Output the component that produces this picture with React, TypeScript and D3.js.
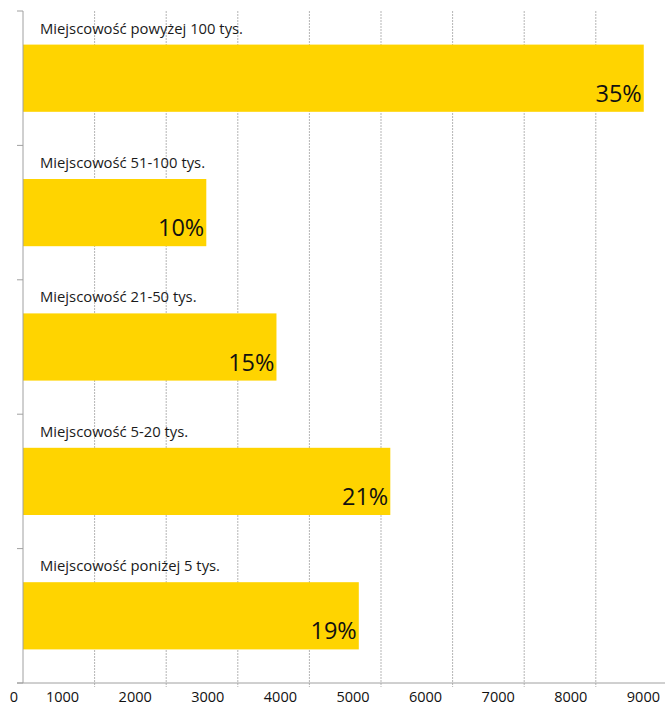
import React from "react";
import * as d3 from "d3";

const categories = [
  "Miejscowość powyżej 100 tys.",
  "Miejscowość 51-100 tys.",
  "Miejscowość 21-50 tys.",
  "Miejscowość 5-20 tys.",
  "Miejscowość poniżej 5 tys.",
];
const values = [8670, 2560, 3540, 5130, 4690];
const percents = ["35%", "10%", "15%", "21%", "19%"];
const xTicks = [0, 1000, 2000, 3000, 4000, 5000, 6000, 7000, 8000, 9000];

const W = 672;
const H = 706;
const FONT = "'Open Sans', 'Noto Sans', sans-serif";

export default function App() {
  const left = 23;
  const top = 11;
  const bottom = 683;
  const x = d3.scaleLinear().domain([0, 9000]).range([left, left + 71.6 * 9]);
  const y = d3
    .scaleBand<string>()
    .domain(categories)
    .range([top, bottom])
    .paddingInner(0.5)
    .paddingOuter(0.25);
  const step = y.step();
  // tick labels in the reference sit between gridlines
  const labelX = d3
    .scaleLinear()
    .domain([1000, 9000])
    .range([x(1000) - 32, x(9000) - 24]);

  const boundaries = d3.range(categories.length + 1).map((i) => top + i * step);

  return (
    <svg
      width={W}
      height={H}
      style={{ position: "absolute", left: 0, top: 0, background: "#fff" }}
      fontFamily={FONT}
    >
      {/* gridlines */}
      {xTicks.slice(1, 9).map((t) => (
        <line
          key={"g" + t}
          x1={x(t)}
          x2={x(t)}
          y1={top}
          y2={bottom + 4}
          stroke="#b5b5b5"
          strokeWidth={1}
          strokeDasharray="2 1"
        />
      ))}
      {/* bars */}
      {categories.map((c, i) => {
        const by = y(c)!;
        const bh = y.bandwidth();
        return (
          <g key={c}>
            <rect x={x(0)} y={by} width={x(values[i]) - x(0)} height={bh} fill="#FFD400" />
            <text
              x={left + 17}
              y={by - 11}
              fontSize={14.8}
              fill="#1a1a1a"
            >
              {c}
            </text>
            <text
              x={x(values[i]) - 2}
              y={by + bh - 10}
              fontSize={23.5}
              textAnchor="end"
              fill="#111"
            >
              {percents[i]}
            </text>
          </g>
        );
      })}
      {/* y axis */}
      <line x1={left} x2={left} y1={top} y2={bottom} stroke="#a0a0a0" strokeWidth={1} />
      {boundaries.map((b, i) => (
        <line key={"yt" + i} x1={left - 6} x2={left} y1={b} y2={b} stroke="#a0a0a0" strokeWidth={1} />
      ))}
      {/* x axis */}
      <line x1={left - 6} x2={665} y1={bottom} y2={bottom} stroke="#a0a0a0" strokeWidth={1} />
      {xTicks.map((t) => (
        <text
          key={"xl" + t}
          x={t === 0 ? left - 9 : labelX(t)}
          y={702}
          fontSize={14.5}
          textAnchor="middle"
          fill="#111"
        >
          {t}
        </text>
      ))}
    </svg>
  );
}
